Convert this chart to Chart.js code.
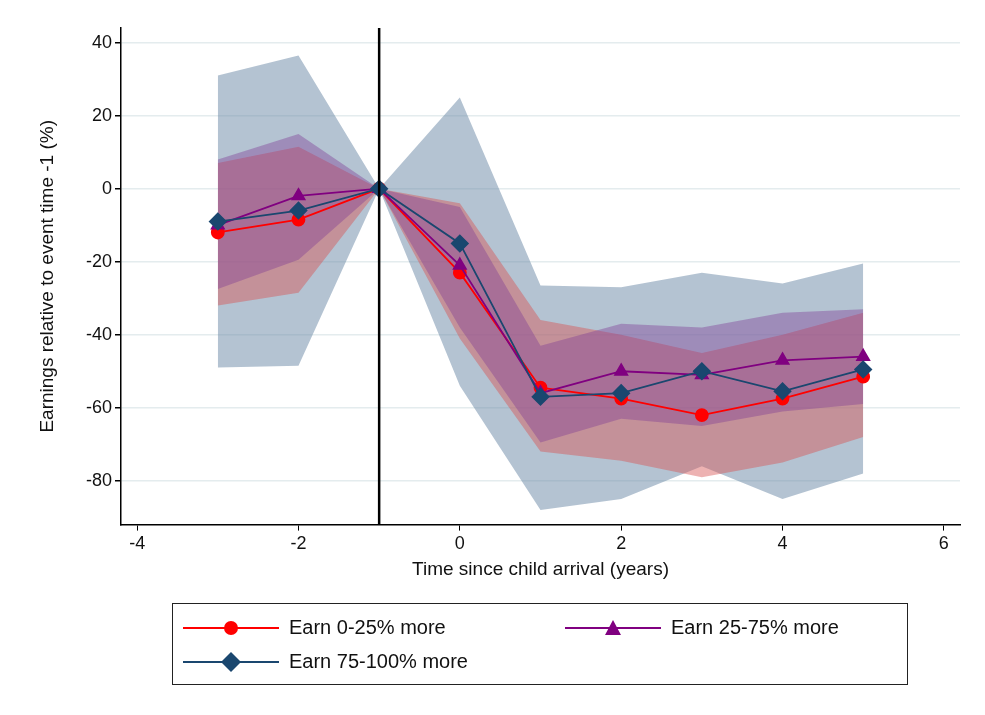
<!DOCTYPE html>
<html><head><meta charset="utf-8">
<script src="https://cdn.jsdelivr.net/npm/chart.js@4"></script>
<style>
body{margin:0;background:#fff;font-family:Arial,"Liberation Sans",sans-serif}
#wrap{position:relative;width:985px;height:715px}
#legend{position:absolute;left:172px;top:603px;width:736px;height:82px;border:1px solid #222;box-sizing:border-box;font-size:20px;color:#111}
.it{position:absolute;display:flex;align-items:center}
.it svg{margin-right:10px}
</style></head><body>
<div id="wrap"><canvas id="c" width="985" height="715"></canvas>
<div id="legend">
 <div class="it" style="left:10px;top:12px"><svg width="96" height="20"><line x1="0" y1="10" x2="96" y2="10" stroke="#ff0000" stroke-width="2"/><circle cx="48" cy="10" r="7" fill="#ff0000"/></svg>Earn 0-25% more</div>
 <div class="it" style="left:392px;top:12px"><svg width="96" height="20"><line x1="0" y1="10" x2="96" y2="10" stroke="#800080" stroke-width="2"/><polygon points="48,2 56,17 40,17" fill="#800080"/></svg>Earn 25-75% more</div>
 <div class="it" style="left:10px;top:46px"><svg width="96" height="22"><line x1="0" y1="11" x2="96" y2="11" stroke="#1a476f" stroke-width="2"/><polygon points="48,1 58,11 48,21 38,11" fill="#1a476f"/></svg>Earn 75-100% more</div>
</div></div>
<script>
const years = [-3, -2, -1, 0, 1, 2, 3, 4, 5];
const xTicks = [-4, -2, 0, 2, 4, 6];
const yTicks = [-80, -60, -40, -20, 0, 20, 40];

const low = [-12, -8.5, 0, -23, -54.5, -57.5, -62, -57.5, -51.5];
const lowHi = [7, 11.5, 0, -4, -36, -40, -45, -40, -34];
const lowLo = [-32, -28.5, 0, -41, -72, -74.5, -79, -75, -68];

const mid = [-10, -2, 0, -21, -56, -50, -51, -47, -46];
const midHi = [8, 15, 0, -5, -43, -37, -38, -34, -33];
const midLo = [-27.5, -19.5, 0, -38, -69.5, -63, -65, -61, -59];

const high = [-9, -6, 0, -15, -57, -56, -50, -55.5, -49.5];
const highHi = [31, 36.5, 0, 25, -26.5, -27, -23, -26, -20.5];
const highLo = [-49, -48.5, 0, -54, -88, -85, -76, -85, -78];

const pts = arr => years.map((x, i) => ({x, y: arr[i]}));
const band = (arr, fill, col, order) => ({data: pts(arr), fill, order, backgroundColor: col, borderWidth: 0, pointRadius: 0, tension: 0});
const line = (arr, col, style, r, order) => ({data: pts(arr), order, borderColor: col, backgroundColor: col, borderWidth: 1.8, pointStyle: style, pointRadius: r, fill: false});

const vline = {
    id: 'vline',
    afterDatasetsDraw(ch) {
        const {ctx, chartArea: a, scales: {x}} = ch;
        const px = x.getPixelForValue(-1);
        ctx.save(); ctx.strokeStyle = '#000'; ctx.lineWidth = 2.5;
        ctx.beginPath(); ctx.moveTo(px, a.top); ctx.lineTo(px, a.bottom); ctx.stroke(); ctx.restore();
    }
};

new Chart(document.getElementById('c'), {
    type: 'line',
    data: {datasets: [
        band(highHi, '+1', 'rgba(105,135,165,0.5)', 9), band(highLo, false, 'transparent', 9),
        band(lowHi, '+1', 'rgba(215,85,85,0.45)', 8), band(lowLo, false, 'transparent', 8),
        band(midHi, '+1', 'rgba(128,60,150,0.4)', 7), band(midLo, false, 'transparent', 7),
        line(low, '#ff0000', 'circle', 6, 3),
        line(mid, '#800080', 'triangle', 7, 2),
        line(high, '#1a476f', 'rectRot', 8, 1)
    ]},
    options: {
        responsive: false, animation: false,
        layout: {padding: {top: 28, right: 25, bottom: 130, left: 32}},
        plugins: {legend: {display: false}, tooltip: {enabled: false}},
        scales: {
            x: {type: 'linear', min: -4.2, max: 6.2,
                afterBuildTicks: s => { s.ticks = xTicks.map(v => ({value: v})); },
                grid: {display: true, color: 'transparent', drawTicks: true, tickColor: '#000', tickLength: 6},
                border: {color: '#000', width: 1.5},
                ticks: {color: '#111', font: {size: 18, family: 'Arial'}},
                title: {display: true, text: 'Time since child arrival (years)', color: '#111', font: {size: 19, family: 'Arial'}, padding: {top: 0}}},
            y: {min: -92, max: 44,
                afterBuildTicks: s => { s.ticks = yTicks.map(v => ({value: v})); },
                afterFit: s => { s.width = 89; },
                grid: {color: '#e4ecee', lineWidth: 1.5, drawTicks: true, tickColor: '#000', tickLength: 6},
                border: {color: '#000', width: 1.5},
                ticks: {color: '#111', font: {size: 18, family: 'Arial'}},
                title: {display: true, text: 'Earnings relative to event time -1 (%)', color: '#111', font: {size: 19, family: 'Arial'}}}
        }
    },
    plugins: [vline]
});
</script></body></html>
